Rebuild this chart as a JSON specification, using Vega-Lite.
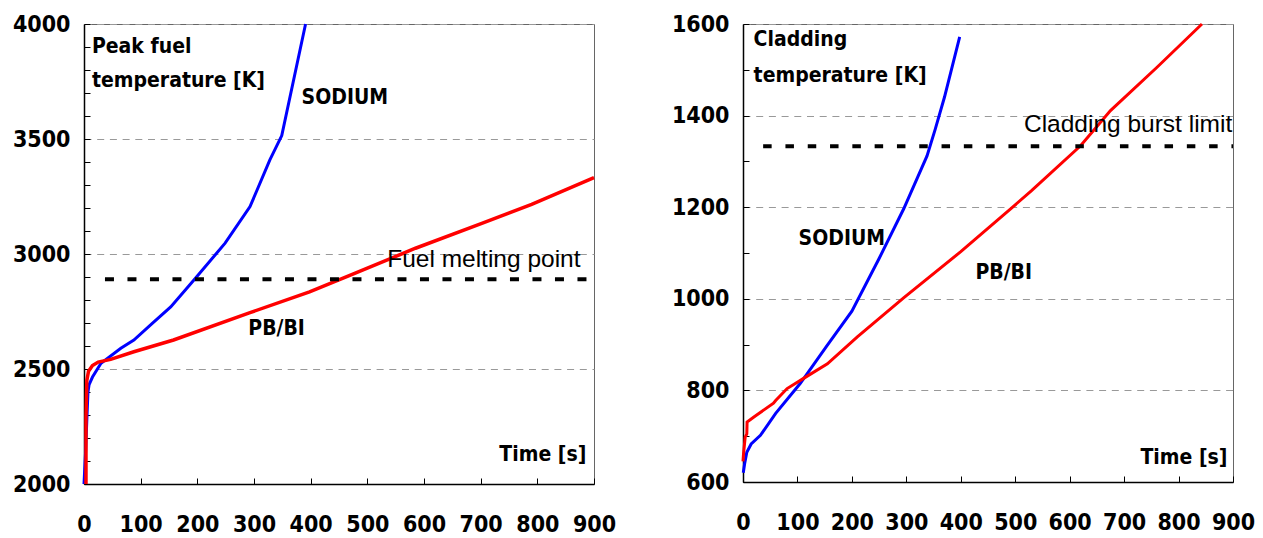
{
  "$schema": "https://vega.github.io/schema/vega-lite/v6.json",
  "padding": {"left": 11, "top": 12, "right": 5, "bottom": 5},
  "spacing": 53,
  "config": {
    "view": {"stroke": "#666", "strokeWidth": 1},
    "axis": {
      "domainColor": "#000", "domainWidth": 1.5,
      "tickColor": "#000", "tickSize": -6, "tickWidth": 1,
      "labelFont": "'DejaVu Sans Condensed', sans-serif",
      "labelFontWeight": "bold", "labelFontSize": 23, "labelColor": "#000",
      "labelOverlap": false, "labelFlush": false,
      "title": null, "gridColor": "#999", "gridDash": [7, 5.7], "gridWidth": 1
    },
    "axisX": {"labelPadding": 35},
    "axisY": {"labelPadding": 20}
  },
  "datasets": {
    "fuel": [
      {"series": "SODIUM", "i": 1, "t": 0, "T": 2000},
      {"series": "SODIUM", "i": 2, "t": 3, "T": 2150},
      {"series": "SODIUM", "i": 3, "t": 5, "T": 2280},
      {"series": "SODIUM", "i": 4, "t": 7, "T": 2400},
      {"series": "SODIUM", "i": 5, "t": 9, "T": 2432},
      {"series": "SODIUM", "i": 6, "t": 15, "T": 2465},
      {"series": "SODIUM", "i": 7, "t": 30, "T": 2525},
      {"series": "SODIUM", "i": 8, "t": 65, "T": 2590},
      {"series": "SODIUM", "i": 9, "t": 88, "T": 2626},
      {"series": "SODIUM", "i": 10, "t": 120, "T": 2697},
      {"series": "SODIUM", "i": 11, "t": 153, "T": 2770},
      {"series": "SODIUM", "i": 12, "t": 194, "T": 2887},
      {"series": "SODIUM", "i": 13, "t": 249, "T": 3047},
      {"series": "SODIUM", "i": 14, "t": 293, "T": 3206},
      {"series": "SODIUM", "i": 15, "t": 328, "T": 3409},
      {"series": "SODIUM", "i": 16, "t": 349, "T": 3515},
      {"series": "SODIUM", "i": 17, "t": 391, "T": 4000},
      {"series": "PB/BI", "i": 1, "t": 3.5, "T": 2000},
      {"series": "PB/BI", "i": 2, "t": 3.5, "T": 2290},
      {"series": "PB/BI", "i": 3, "t": 5, "T": 2450},
      {"series": "PB/BI", "i": 4, "t": 8, "T": 2490},
      {"series": "PB/BI", "i": 5, "t": 15, "T": 2515},
      {"series": "PB/BI", "i": 6, "t": 25, "T": 2530},
      {"series": "PB/BI", "i": 7, "t": 47, "T": 2542},
      {"series": "PB/BI", "i": 8, "t": 88, "T": 2575},
      {"series": "PB/BI", "i": 9, "t": 158, "T": 2626},
      {"series": "PB/BI", "i": 10, "t": 293, "T": 2745},
      {"series": "PB/BI", "i": 11, "t": 398, "T": 2835},
      {"series": "PB/BI", "i": 12, "t": 468, "T": 2906},
      {"series": "PB/BI", "i": 13, "t": 585, "T": 3025},
      {"series": "PB/BI", "i": 14, "t": 702, "T": 3133},
      {"series": "PB/BI", "i": 15, "t": 790, "T": 3216},
      {"series": "PB/BI", "i": 16, "t": 900, "T": 3332}
    ],
    "clad": [
      {"series": "SODIUM", "i": 1, "t": 0.5, "T": 620},
      {"series": "SODIUM", "i": 2, "t": 3, "T": 640},
      {"series": "SODIUM", "i": 3, "t": 7, "T": 665},
      {"series": "SODIUM", "i": 4, "t": 15, "T": 683},
      {"series": "SODIUM", "i": 5, "t": 32, "T": 702},
      {"series": "SODIUM", "i": 6, "t": 60, "T": 750},
      {"series": "SODIUM", "i": 7, "t": 105, "T": 815},
      {"series": "SODIUM", "i": 8, "t": 154, "T": 897},
      {"series": "SODIUM", "i": 9, "t": 200, "T": 973},
      {"series": "SODIUM", "i": 10, "t": 250, "T": 1088},
      {"series": "SODIUM", "i": 11, "t": 295, "T": 1196},
      {"series": "SODIUM", "i": 12, "t": 338, "T": 1312},
      {"series": "SODIUM", "i": 13, "t": 353, "T": 1370},
      {"series": "SODIUM", "i": 14, "t": 370, "T": 1440},
      {"series": "SODIUM", "i": 15, "t": 398, "T": 1572},
      {"series": "PB/BI", "i": 1, "t": 0, "T": 645},
      {"series": "PB/BI", "i": 2, "t": 1, "T": 662},
      {"series": "PB/BI", "i": 3, "t": 4, "T": 698},
      {"series": "PB/BI", "i": 4, "t": 7, "T": 705},
      {"series": "PB/BI", "i": 5, "t": 7.5, "T": 731},
      {"series": "PB/BI", "i": 6, "t": 20, "T": 742},
      {"series": "PB/BI", "i": 7, "t": 56, "T": 772},
      {"series": "PB/BI", "i": 8, "t": 60, "T": 778},
      {"series": "PB/BI", "i": 9, "t": 81, "T": 804},
      {"series": "PB/BI", "i": 10, "t": 115, "T": 829},
      {"series": "PB/BI", "i": 11, "t": 155, "T": 858},
      {"series": "PB/BI", "i": 12, "t": 210, "T": 917},
      {"series": "PB/BI", "i": 13, "t": 295, "T": 1002},
      {"series": "PB/BI", "i": 14, "t": 400, "T": 1103},
      {"series": "PB/BI", "i": 15, "t": 491, "T": 1196},
      {"series": "PB/BI", "i": 16, "t": 530, "T": 1236},
      {"series": "PB/BI", "i": 17, "t": 620, "T": 1334},
      {"series": "PB/BI", "i": 18, "t": 675, "T": 1411},
      {"series": "PB/BI", "i": 19, "t": 760, "T": 1505},
      {"series": "PB/BI", "i": 20, "t": 843, "T": 1600}
    ],
    "fuelLimit": [{"t": 37, "t2": 900, "T": 2890}],
    "cladLimit": [{"t": 37, "t2": 900, "T": 1333}],
    "fuelBold": [
      {"label": "Peak fuel", "t": 14, "T": 3900},
      {"label": "temperature [K]", "t": 14, "T": 3753},
      {"label": "SODIUM", "t": 384, "T": 3677},
      {"label": "PB/BI", "t": 290, "T": 2675},
      {"label": "Time [s]", "t": 733, "T": 2128}
    ],
    "cladBold": [
      {"label": "Cladding", "t": 19.5, "T": 1565},
      {"label": "temperature [K]", "t": 19.5, "T": 1487},
      {"label": "SODIUM", "t": 102, "T": 1130},
      {"label": "PB/BI", "t": 427, "T": 1057},
      {"label": "Time [s]", "t": 730, "T": 653}
    ],
    "fuelNote": [{"label": "Fuel melting point", "t": 535, "T": 2942}],
    "cladNote": [{"label": "Cladding burst limit", "t": 516, "T": 1365}]
  },
  "hconcat": [
    {
      "width": 510,
      "height": 460,
      "encoding": {
        "x": {"field": "t", "type": "quantitative",
              "scale": {"domain": [0, 900], "nice": false},
              "axis": {"values": [0, 100, 200, 300, 400, 500, 600, 700, 800, 900], "format": "d", "grid": false}},
        "y": {"field": "T", "type": "quantitative",
              "scale": {"domain": [2000, 4000], "nice": false, "zero": false},
              "axis": {"values": [2000, 2100, 2200, 2300, 2400, 2500, 2600, 2700, 2800, 2900, 3000, 3100, 3200, 3300, 3400, 3500, 3600, 3700, 3800, 3900, 4000],
                       "labelExpr": "datum.value % 500 === 0 ? '' + datum.value : ''",
                       "grid": true,
                       "gridOpacity": {"condition": {"test": "datum.value % 500 === 0 && datum.value > 2000", "value": 1}, "value": 0}}}
      },
      "layer": [
        {"data": {"name": "fuel"}, "transform": [{"filter": "datum.series === 'SODIUM'"}],
         "mark": {"type": "line", "color": "#0000ff", "strokeWidth": 3},
         "encoding": {"order": {"field": "i", "type": "quantitative"}}},
        {"data": {"name": "fuel"}, "transform": [{"filter": "datum.series === 'PB/BI'"}],
         "mark": {"type": "line", "color": "#ff0000", "strokeWidth": 3.5},
         "encoding": {"order": {"field": "i", "type": "quantitative"}}},
        {"data": {"name": "fuelLimit"},
         "mark": {"type": "rule", "color": "#000", "strokeWidth": 4, "strokeDash": [9, 13.5]},
         "encoding": {"x2": {"field": "t2"}}},
        {"data": {"name": "fuelBold"},
         "mark": {"type": "text", "font": "'DejaVu Sans Condensed', sans-serif", "fontWeight": "bold", "fontSize": 21, "align": "left", "baseline": "middle", "color": "#000"},
         "encoding": {"text": {"field": "label"}}},
        {"data": {"name": "fuelNote"},
         "mark": {"type": "text", "font": "'Liberation Sans', Arial, sans-serif", "fontSize": 24.5, "align": "left", "baseline": "alphabetic", "color": "#000"},
         "encoding": {"text": {"field": "label"}}}
      ]
    },
    {
      "width": 490,
      "height": 458,
      "encoding": {
        "x": {"field": "t", "type": "quantitative",
              "scale": {"domain": [0, 900], "nice": false},
              "axis": {"values": [0, 100, 200, 300, 400, 500, 600, 700, 800, 900], "format": "d", "grid": false}},
        "y": {"field": "T", "type": "quantitative",
              "scale": {"domain": [600, 1600], "nice": false, "zero": false},
              "axis": {"values": [600, 700, 800, 900, 1000, 1100, 1200, 1300, 1400, 1500, 1600],
                       "labelExpr": "datum.value % 200 === 0 ? '' + datum.value : ''",
                       "grid": true,
                       "gridOpacity": {"condition": {"test": "datum.value % 200 === 0 && datum.value > 600", "value": 1}, "value": 0}}}
      },
      "layer": [
        {"data": {"name": "clad"}, "transform": [{"filter": "datum.series === 'SODIUM'"}],
         "mark": {"type": "line", "color": "#0000ff", "strokeWidth": 3},
         "encoding": {"order": {"field": "i", "type": "quantitative"}}},
        {"data": {"name": "clad"}, "transform": [{"filter": "datum.series === 'PB/BI'"}],
         "mark": {"type": "line", "color": "#ff0000", "strokeWidth": 3},
         "encoding": {"order": {"field": "i", "type": "quantitative"}}},
        {"data": {"name": "cladLimit"},
         "mark": {"type": "rule", "color": "#000", "strokeWidth": 4, "strokeDash": [8.5, 13.8]},
         "encoding": {"x2": {"field": "t2"}}},
        {"data": {"name": "cladBold"},
         "mark": {"type": "text", "font": "'DejaVu Sans Condensed', sans-serif", "fontWeight": "bold", "fontSize": 21, "align": "left", "baseline": "middle", "color": "#000"},
         "encoding": {"text": {"field": "label"}}},
        {"data": {"name": "cladNote"},
         "mark": {"type": "text", "font": "'Liberation Sans', Arial, sans-serif", "fontSize": 24.5, "align": "left", "baseline": "alphabetic", "color": "#000"},
         "encoding": {"text": {"field": "label"}}}
      ]
    }
  ]
}
